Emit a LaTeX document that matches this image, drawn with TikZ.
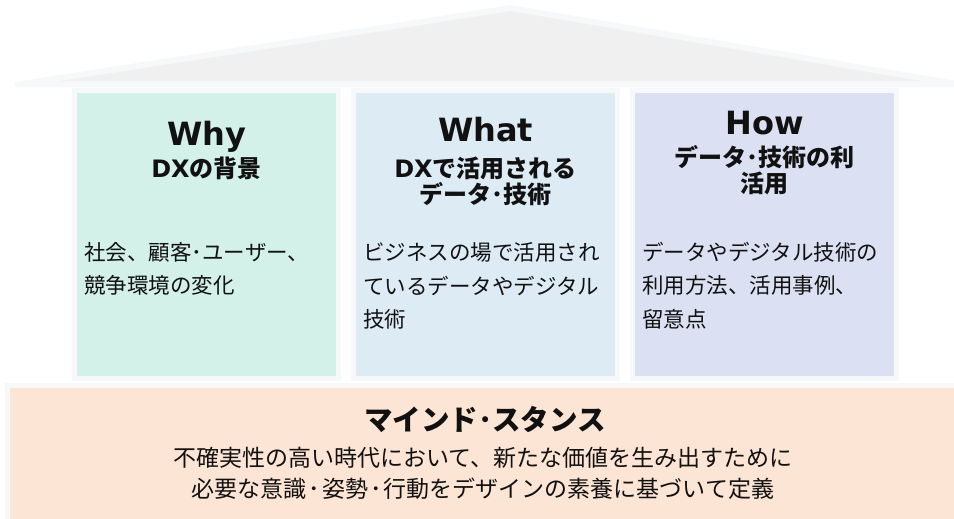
\documentclass[tikz,border=0pt]{standalone}
\usepackage{fontspec}
\setmainfont{Noto Sans CJK JP}
\newfontfamily\jp{Noto Sans CJK JP}
\newfontfamily\verd{DejaVu Sans}
\definecolor{roofc}{HTML}{F1F0F0}
\definecolor{edgec}{HTML}{F6F8F9}
\definecolor{whyc}{HTML}{D3F0E9}
\definecolor{whatc}{HTML}{DDEBF5}
\definecolor{howc}{HTML}{DBE0F2}
\definecolor{basec}{HTML}{FDE5D5}
\definecolor{txtc}{HTML}{111111}
\tikzset{
  panel/.style={draw=edgec, line width=5pt},
  bigword/.style={anchor=base, inner sep=0pt, text=txtc, font=\verd\bfseries\fontsize{32}{36}\selectfont},
  subline/.style={anchor=center, inner sep=0pt, text=txtc, font=\jp\bfseries\fontsize{24}{28}\selectfont},
  bodyline/.style={anchor=west, inner sep=0pt, text=txtc, font=\jp\fontsize{21.5}{26}\selectfont},
  basetitle/.style={anchor=center, inner sep=0pt, text=txtc, font=\jp\bfseries\fontsize{28.5}{32}\selectfont},
  basebody/.style={anchor=center, inner sep=0pt, text=txtc, font=\jp\fontsize{23}{27}\selectfont},
}
\newcommand{\lat}[1]{{\verd\bfseries #1}}
\newcommand{\mdot}{\kern2pt･\kern2pt}
\begin{document}
\begin{tikzpicture}[x=1pt,y=-1pt]
\useasboundingbox (0,0) rectangle (954,519);
% roof
\draw[fill=roofc, draw=edgec, line width=6pt, line join=round] (18,84.5) -- (511,8) -- (960,84.5) -- cycle;
% columns
\draw[panel, fill=whyc]  (74.5,90.5) rectangle (338.5,378.5);
\draw[panel, fill=whatc] (353.5,90.5) rectangle (617.5,378.5);
\draw[panel, fill=howc]  (632.5,90.5) rectangle (896.5,378.5);
% base
\draw[panel, fill=basec] (7.5,385.5) rectangle (962,530);
% column 1
\node[bigword] (why) at (206.5,145) {Why};
\node[subline] (whysub) at (206.5,168) {\lat{DX}の背景};
\node[bodyline] (whyb1) at (84,252) {社会、顧客･ユーザー、};
\node[bodyline] (whyb2) at (84,285.5) {競争環境の変化};
% column 2
\node[bigword] (what) at (485.5,142) {What};
\node[subline] (whatsub1) at (485.5,168) {\lat{DX}で活用される};
\node[subline] (whatsub2) at (485.5,194) {データ･技術};
\node[bodyline] (whatb1) at (363,252) {ビジネスの場で活用され};
\node[bodyline] (whatb2) at (363,285.5) {ているデータやデジタル};
\node[bodyline] (whatb3) at (363,319) {技術};
% column 3
\node[bigword] (how) at (764.5,135) {How};
\node[subline] (howsub1) at (764.5,157.5) {データ･技術の利};
\node[subline] (howsub2) at (764.5,183.5) {活用};
\node[bodyline] (howb1) at (642,252) {データやデジタル技術の};
\node[bodyline] (howb2) at (642,285.5) {利用方法、活用事例、};
\node[bodyline] (howb3) at (642,319) {留意点};
% base text
\node[basetitle] (mind) at (485,419) {マインド･スタンス};
\node[basebody] (mind1) at (483,458) {不確実性の高い時代において、新たな価値を生み出すために};
\node[basebody] (mind2) at (483,489) {必要な意識\mdot 姿勢\mdot 行動をデザインの素養に基づいて定義};
\end{tikzpicture}
\end{document}
